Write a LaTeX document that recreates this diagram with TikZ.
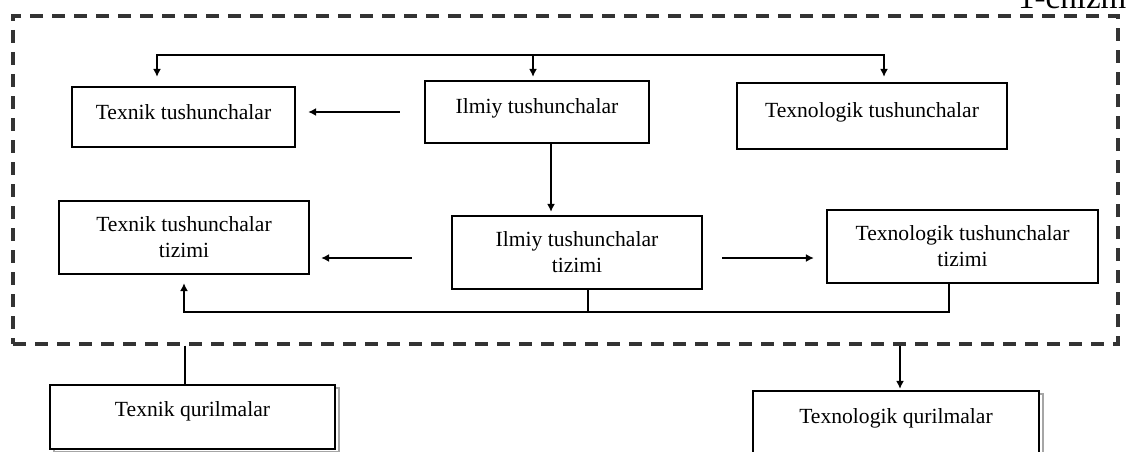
\documentclass[tikz,border=0pt]{standalone}
\usepackage{fontspec}
\setmainfont{Liberation Serif}
\usepackage{tikz}
\usetikzlibrary{arrows.meta,shadows}

\newcommand{\lift}[1]{\rule[-#1pt]{0pt}{#1pt}}

\begin{document}
\begin{tikzpicture}[x=1pt,y=-1pt,
            boite/.style={draw, fill=white, line width=2.2pt, inner sep=0pt, align=center,
                font=\fontsize{21.6}{26}\selectfont},
            ombre/.style={drop shadow={shadow xshift=4pt, shadow yshift=-3pt,
                fill=white, draw=black!35, line width=1.5pt, opacity=1}},
            trait/.style={line width=2.7pt},
            fleche/.style={trait, -{Latex[length=8pt,width=8pt]}},
            cadre/.style={draw=black!80, line width=3.2pt, dash pattern=on 13pt off 9pt}]
            \useasboundingbox (0,0) rectangle (1127,452);

            %Titre coupe en haut
            \node[anchor=base west, inner sep=0pt, font=\fontsize{33}{38}\selectfont] (titre) at (1018,9) {1-chizma};

            %Cadre en pointillets
            \node[cadre, minimum width=1105pt, minimum height=328pt] (cadre) at (565.5,180) {};

            %Boites du haut
            \node[boite, minimum width=223pt, minimum height=60pt] (texnik) at (183.5,117) {Texnik tushunchalar\lift{10.5}};
            \node[boite, minimum width=224pt, minimum height=62pt] (ilmiy) at (537,112) {Ilmiy tushunchalar\lift{12.5}};
            \node[boite, minimum width=270pt, minimum height=66pt] (texnolog) at (872,116) {Texnologik tushunchalar\lift{12.5}};

            %Systemes
            \node[boite, minimum width=250pt, minimum height=73pt] (texniksys) at (184,237.5) {Texnik tushunchalar\\ tizimi};
            \node[boite, minimum width=250pt, minimum height=73pt] (ilmiysys) at (577,252.5) {Ilmiy tushunchalar\\ tizimi};
            \node[boite, minimum width=271pt, minimum height=73pt] (texnologsys) at (962.5,246.5) {Texnologik tushunchalar\\ tizimi};

            %Qurilmalar
            \node[boite, ombre, minimum width=285pt, minimum height=64pt] (qurtex) at (192.5,417) {Texnik qurilmalar\lift{16.5}};
            \node[boite, ombre, minimum width=286pt, minimum height=70pt] (qurtexno) at (896,426) {Texnologik qurilmalar\lift{20.5}};

            %Ligne du haut
            \coordinate (hautG) at (157,55);
            \coordinate (hautM) at (533,55);
            \coordinate (hautD) at (884,55);
            \draw[fleche, shorten >=9pt] (hautM) -| (hautG |- texnik.north);
            \draw[fleche, shorten >=5pt] (hautM) -| (hautD |- texnolog.north);
            \draw[fleche, shorten >=3pt] (hautM) -- (hautM |- ilmiy.north);

            %Fleches entre boites
            \draw[fleche, shorten <=24pt, shorten >=12pt] (ilmiy.west) -- (ilmiy.west -| texnik.east);
            \draw[fleche, shorten >=3pt] ([xshift=14pt]ilmiy.south) -- ([xshift=14pt]ilmiy.south |- ilmiysys.north);
            \draw[fleche, shorten <=39pt, shorten >=11pt] ([yshift=-5.5pt]ilmiysys.west) -- ([yshift=-5.5pt]ilmiysys.west -| texniksys.east);
            \draw[fleche, shorten <=19pt, shorten >=12pt] ([yshift=-5.5pt]ilmiysys.east) -- ([yshift=-5.5pt]ilmiysys.east -| texnologsys.west);

            %Ligne du bas
            \path (texniksys.south) ++(0,37) coordinate (bus);
            \draw[fleche, shorten >=8pt] ([xshift=-13.5pt]texnologsys.south) |- (bus) -- (texniksys.south);
            \draw[trait] ([xshift=11pt]ilmiysys.south) -- ([xshift=11pt]ilmiysys.south |- bus);

            %Sorties du cadre
            \draw[trait] ([xshift=-7.5pt]qurtex.north |- cadre.south) -- ([xshift=-7.5pt]qurtex.north);
            \draw[fleche, shorten >=1pt] ([xshift=4pt]qurtexno.north |- cadre.south) -- ([xshift=4pt]qurtexno.north);

\end{tikzpicture}
\end{document}
